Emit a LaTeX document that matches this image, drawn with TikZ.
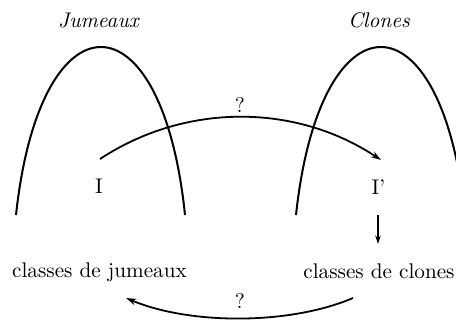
\documentclass[tikz,border=0pt]{standalone}
\usetikzlibrary{arrows.meta}
\begin{document}
\begin{tikzpicture}[x=0.4717pt,y=-0.4717pt,
  arch/.style={line width=0.95pt},
  conn/.style={line width=0.85pt,-{Stealth[length=4.8pt,width=3pt]}},
  thin conn/.style={line width=0.5pt,-{Stealth[length=4pt,width=2.6pt]}},
  lbl/.style={inner sep=0pt,anchor=base}]
\useasboundingbox (0,0) rectangle (456,320);
\clip (0,0) rectangle (456,320);
% titles
\node[lbl] (tj) at (99,27) {\textit{Jumeaux}};
\node[lbl] (tc) at (379,27) {\textit{Clones}};
% arches
\draw[arch] (16,215) .. controls (40,-9) and (162,-9) .. (185,215);
\draw[arch] (296,215) .. controls (320,-9) and (442,-9) .. (465,215);
% nodes
\node[lbl] (I) at (99,193.5) {I};
\node[lbl] (Ip) at (378.5,194) {I'};
\node[lbl] (cj) at (99.5,277.5) {classes de jumeaux};
\node[lbl] (cc) at (379,278) {classes de clones};
\node[lbl] (q1) at (240,112) {?};
\node[lbl] (q2) at (240,308) {?};
% connector end points
\coordinate (a1) at (100,159);
\coordinate (a2) at (381,160);
\coordinate (d1) at (378,215);
\coordinate (d2) at (378,244);
\coordinate (b1) at (353,298);
\coordinate (b2) at (126,298);
% connectors
\draw[conn] (a1) .. controls (185,103) and (295,103) .. (a2);
\draw[thin conn] (d1) -- (d2);
\draw[conn] (b1) .. controls (290,325) and (190,325) .. (b2);
\end{tikzpicture}
\end{document}
